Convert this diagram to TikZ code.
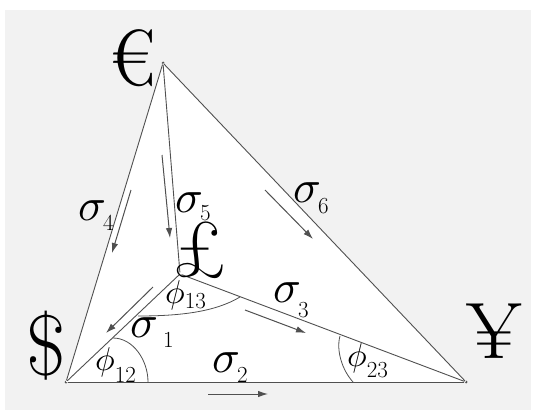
\documentclass[tikz,border=0pt]{standalone}
\usepackage{fontspec}
\usepackage{graphicx}
\usetikzlibrary{arrows.meta}
\definecolor{bg}{RGB}{242,242,242}
\definecolor{ln}{RGB}{80,80,80}
\newcommand{\curfont}{\fontsize{80}{80}\selectfont}
\newcommand{\gsig}{\scalebox{4.6}{$\sigma$}\kern-3pt}
\newcommand{\gphi}{\scalebox{3.3}{$\phi$}}
\newcommand{\subs}[2]{\raisebox{-#1pt}{\fontsize{23}{23}\selectfont #2}}
\begin{document}
\begin{tikzpicture}[x=1pt,y=-1pt,
  edge/.style={draw=ln,line width=0.9pt},
  flow/.style={draw=ln,line width=1pt,-{Latex[length=10pt,width=6.5pt]}},
  angarc/.style={draw=ln,line width=0.8pt},
  vtx/.style={circle,fill=ln,inner sep=0pt,minimum size=3pt},
  cur/.style={inner sep=0pt,anchor=base,font=\curfont},
  lab/.style={inner sep=0pt,anchor=base west}]
\useasboundingbox (0,0) rectangle (533,412);
\fill[bg] (5,10) rectangle (531,410);
% vertices
\node[vtx] (E) at (163,63) {};
\node[vtx] (D) at (66,382) {};
\node[vtx] (Y) at (466,382) {};
\node[vtx] (P) at (180,274) {};
\fill[white] (E.center) -- (D.center) -- (Y.center) -- cycle;
% edges
\draw[edge] (E) -- (D);
\draw[edge] (E) -- (Y);
\draw[edge] (D) -- (Y);
\draw[edge] (E) -- (P);
\draw[edge] (P) -- (D);
\draw[edge] (P) -- (Y);
% angle arcs
\draw[angarc] (113,338) .. controls (133,338) and (148,360) .. (148,382);
\draw[angarc] (340,336) .. controls (336,350) and (342,370) .. (353,382);
\draw[angarc] (138,316) .. controls (180,316) and (215,312) .. (240,297);
% flow arrows
\coordinate (a4s) at (131,190); \coordinate (a4e) at (112,253);
\coordinate (a5s) at (162,155); \coordinate (a5e) at (170,238);
\coordinate (a6s) at (265,190); \coordinate (a6e) at (313,239);
\coordinate (a1s) at (153,287); \coordinate (a1e) at (106,333);
\coordinate (a3s) at (245,310); \coordinate (a3e) at (306,333);
\coordinate (a2s) at (208,394); \coordinate (a2e) at (268,394);
\draw[flow] (a4s) -- (a4e);
\draw[flow] (a5s) -- (a5e);
\draw[flow] (a6s) -- (a6e);
\draw[flow] (a1s) -- (a1e);
\draw[flow] (a3s) -- (a3e);
\draw[flow] (a2s) -- (a2e);
% currency symbols
\node[cur] (euro) at (133,85) {€};
\node[cur,font=\fontsize{86}{86}\selectfont] (dollar) at (46,375) {\$};
\node[cur] (yen) at (494,358) {¥};
\node[cur] (pound) at (200,276) {£};
% labels
\node[lab] (s4) at (78,220) {\gsig\subs{10}{4}};
\node[lab] (s5) at (175,212) {\gsig\subs{8}{5}};
\node[lab] (s6) at (293,202) {\gsig\subs{11}{6}};
\node[lab] (s3) at (273,302) {\gsig\subs{15}{3}};
\node[lab] (s1) at (130,337) {\gsig\kern8pt\subs{10}{1}};
\node[lab] (s2) at (212,372) {\gsig\subs{10}{2}};
\node[lab] (f12) at (95,370) {\gphi\subs{12}{12}};
\node[lab] (f23) at (347,366) {\gphi\subs{11}{23}};
\node[lab] (f13) at (165,303) {\gphi\subs{5}{13}};
\end{tikzpicture}
\end{document}
